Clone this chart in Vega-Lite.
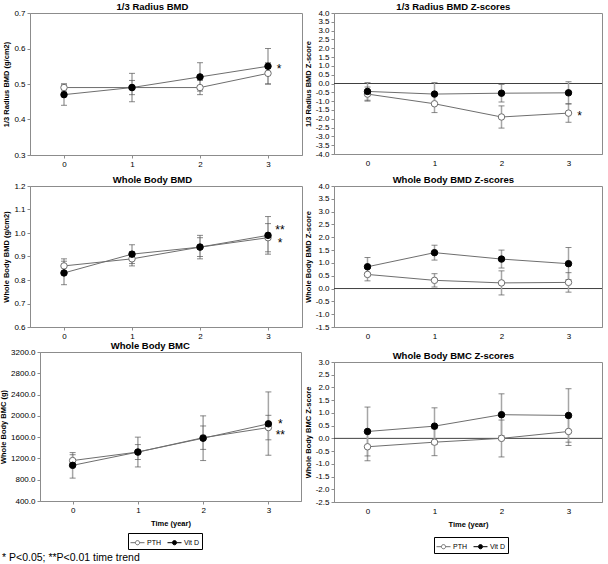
{
  "$schema": "https://vega.github.io/schema/vega-lite/v6.json",
  "background": "white",
  "padding": {"left": -1, "top": 1, "right": 0, "bottom": 0},
  "datasets": {
    "stats": [
      {"panel": "r", "group": "PTH", "time": 0, "mean": 0.49, "lo": 0.48, "hi": 0.50},
      {"panel": "r", "group": "PTH", "time": 1, "mean": 0.49, "lo": 0.47, "hi": 0.51},
      {"panel": "r", "group": "PTH", "time": 2, "mean": 0.49, "lo": 0.47, "hi": 0.51},
      {"panel": "r", "group": "PTH", "time": 3, "mean": 0.53, "lo": 0.50, "hi": 0.56},
      {"panel": "r", "group": "Vit D", "time": 0, "mean": 0.47, "lo": 0.44, "hi": 0.50},
      {"panel": "r", "group": "Vit D", "time": 1, "mean": 0.49, "lo": 0.45, "hi": 0.53},
      {"panel": "r", "group": "Vit D", "time": 2, "mean": 0.52, "lo": 0.48, "hi": 0.56},
      {"panel": "r", "group": "Vit D", "time": 3, "mean": 0.55, "lo": 0.50, "hi": 0.60},
      {"panel": "rz", "group": "PTH", "time": 0, "mean": -0.6, "lo": -1.0, "hi": -0.2},
      {"panel": "rz", "group": "PTH", "time": 1, "mean": -1.15, "lo": -1.65, "hi": -0.65},
      {"panel": "rz", "group": "PTH", "time": 2, "mean": -1.9, "lo": -2.53, "hi": -1.27},
      {"panel": "rz", "group": "PTH", "time": 3, "mean": -1.68, "lo": -2.2, "hi": -1.16},
      {"panel": "rz", "group": "Vit D", "time": 0, "mean": -0.45, "lo": -0.95, "hi": 0.05},
      {"panel": "rz", "group": "Vit D", "time": 1, "mean": -0.6, "lo": -1.2, "hi": 0.05},
      {"panel": "rz", "group": "Vit D", "time": 2, "mean": -0.55, "lo": -1.05, "hi": -0.05},
      {"panel": "rz", "group": "Vit D", "time": 3, "mean": -0.53, "lo": -1.15, "hi": 0.1},
      {"panel": "w", "group": "PTH", "time": 0, "mean": 0.86, "lo": 0.83, "hi": 0.89},
      {"panel": "w", "group": "PTH", "time": 1, "mean": 0.89, "lo": 0.86, "hi": 0.92},
      {"panel": "w", "group": "PTH", "time": 2, "mean": 0.94, "lo": 0.90, "hi": 0.98},
      {"panel": "w", "group": "PTH", "time": 3, "mean": 0.98, "lo": 0.92, "hi": 1.04},
      {"panel": "w", "group": "Vit D", "time": 0, "mean": 0.83, "lo": 0.78, "hi": 0.88},
      {"panel": "w", "group": "Vit D", "time": 1, "mean": 0.91, "lo": 0.87, "hi": 0.95},
      {"panel": "w", "group": "Vit D", "time": 2, "mean": 0.94, "lo": 0.89, "hi": 0.99},
      {"panel": "w", "group": "Vit D", "time": 3, "mean": 0.99, "lo": 0.91, "hi": 1.07},
      {"panel": "wz", "group": "PTH", "time": 0, "mean": 0.55, "lo": 0.3, "hi": 0.8},
      {"panel": "wz", "group": "PTH", "time": 1, "mean": 0.32, "lo": 0.06, "hi": 0.58},
      {"panel": "wz", "group": "PTH", "time": 2, "mean": 0.22, "lo": -0.25, "hi": 0.69},
      {"panel": "wz", "group": "PTH", "time": 3, "mean": 0.24, "lo": -0.14, "hi": 0.62},
      {"panel": "wz", "group": "Vit D", "time": 0, "mean": 0.85, "lo": 0.49, "hi": 1.21},
      {"panel": "wz", "group": "Vit D", "time": 1, "mean": 1.4, "lo": 1.11, "hi": 1.69},
      {"panel": "wz", "group": "Vit D", "time": 2, "mean": 1.15, "lo": 0.8, "hi": 1.5},
      {"panel": "wz", "group": "Vit D", "time": 3, "mean": 0.97, "lo": 0.35, "hi": 1.6},
      {"panel": "c", "group": "PTH", "time": 0, "mean": 1160, "lo": 1050, "hi": 1270},
      {"panel": "c", "group": "PTH", "time": 1, "mean": 1320, "lo": 1180, "hi": 1460},
      {"panel": "c", "group": "PTH", "time": 2, "mean": 1590, "lo": 1370, "hi": 1810},
      {"panel": "c", "group": "PTH", "time": 3, "mean": 1780, "lo": 1550, "hi": 2010},
      {"panel": "c", "group": "Vit D", "time": 0, "mean": 1070, "lo": 830, "hi": 1310},
      {"panel": "c", "group": "Vit D", "time": 1, "mean": 1320, "lo": 1040, "hi": 1600},
      {"panel": "c", "group": "Vit D", "time": 2, "mean": 1580, "lo": 1160, "hi": 2000},
      {"panel": "c", "group": "Vit D", "time": 3, "mean": 1850, "lo": 1260, "hi": 2450},
      {"panel": "cz", "group": "PTH", "time": 0, "mean": -0.33, "lo": -0.88, "hi": 0.22},
      {"panel": "cz", "group": "PTH", "time": 1, "mean": -0.15, "lo": -0.68, "hi": 0.38},
      {"panel": "cz", "group": "PTH", "time": 2, "mean": 0.0, "lo": -0.73, "hi": 0.72},
      {"panel": "cz", "group": "PTH", "time": 3, "mean": 0.27, "lo": -0.28, "hi": 0.82},
      {"panel": "cz", "group": "Vit D", "time": 0, "mean": 0.27, "lo": -0.69, "hi": 1.23},
      {"panel": "cz", "group": "Vit D", "time": 1, "mean": 0.48, "lo": -0.24, "hi": 1.2},
      {"panel": "cz", "group": "Vit D", "time": 2, "mean": 0.93, "lo": 0.11, "hi": 1.75},
      {"panel": "cz", "group": "Vit D", "time": 3, "mean": 0.9, "lo": -0.15, "hi": 1.95}
    ],
    "notes": [
      {"panel": "r", "time": 3, "mean": 0.552, "label": "*"},
      {"panel": "rz", "time": 3, "mean": -1.68, "label": "*"},
      {"panel": "w", "time": 3, "mean": 1.025, "label": "**"},
      {"panel": "w", "time": 3, "mean": 0.972, "label": "*"},
      {"panel": "c", "time": 3, "mean": 1900, "label": "*"},
      {"panel": "c", "time": 3, "mean": 1700, "label": "**"}
    ]
  },
  "title": {"text": "* P<0.05; **P<0.01 time trend", "orient": "bottom", "anchor": "start", "frame": "bounds", "fontSize": 10.5, "fontWeight": "normal", "offset": -1, "dx": 3},
  "spacing": 0,
  "bounds": "full",
  "resolve": {"scale": {"fill": "independent", "stroke": "independent"}, "legend": {"fill": "independent", "stroke": "independent"}},
  "hconcat": [
    {
      "concat": [
        {
          "concat": [
            {
              "width": 272, "height": 142,
              "title": "1/3 Radius BMD",
              "data": {"name": "stats"},
              "transform": [{"filter": "datum.panel === 'r'"}],
              "encoding": {
                "x": {"field": "time", "type": "quantitative", "scale": {"domain": [-0.5, 3.5], "nice": false, "zero": false}, "axis": {"values": [0, 1, 2, 3], "format": "d", "title": null}},
                "y": {"field": "mean", "type": "quantitative", "scale": {"domain": [0.3, 0.7], "nice": false, "zero": false}, "axis": {"values": [0.3, 0.4, 0.5, 0.6, 0.7], "format": ".1f", "title": "1/3 Radius BMD (g/cm2)", "labelOverlap": false}}
              },
              "layer": [
                {"mark": {"type": "rule", "color": "#a6a6a6", "strokeWidth": 1.5}, "encoding": {"y": {"field": "lo", "type": "quantitative"}, "y2": {"field": "hi"}}},
                {"mark": {"type": "tick", "orient": "horizontal", "color": "#555555", "size": 6, "thickness": 1}, "encoding": {"y": {"field": "lo", "type": "quantitative"}}},
                {"mark": {"type": "tick", "orient": "horizontal", "color": "#555555", "size": 6, "thickness": 1}, "encoding": {"y": {"field": "hi", "type": "quantitative"}}},
                {"mark": {"type": "line", "color": "#6e6e6e", "strokeWidth": 1}, "encoding": {"detail": {"field": "group"}}},
                {"mark": {"type": "point", "shape": "circle", "filled": true, "size": 42, "strokeWidth": 1, "opacity": 1},
                 "encoding": {
                   "fill": {"field": "group", "type": "nominal", "scale": {"domain": ["PTH", "Vit D"], "range": ["white", "black"]}, "legend": null},
                   "stroke": {"field": "group", "type": "nominal", "scale": {"domain": ["PTH", "Vit D"], "range": ["#6e6e6e", "black"]}, "legend": null}}},
                {"data": {"name": "notes"}, "transform": [{"filter": "datum.panel === 'r'"}], "mark": {"type": "text", "fontSize": 12, "dx": 11, "dy": 3, "align": "center", "baseline": "middle", "color": "black"}, "encoding": {"text": {"field": "label"}}}
              ]
            },
            {
              "width": 272, "height": 141,
              "title": "Whole Body BMD",
              "data": {"name": "stats"},
              "transform": [{"filter": "datum.panel === 'w'"}],
              "encoding": {
                "x": {"field": "time", "type": "quantitative", "scale": {"domain": [-0.5, 3.5], "nice": false, "zero": false}, "axis": {"values": [0, 1, 2, 3], "format": "d", "title": null}},
                "y": {"field": "mean", "type": "quantitative", "scale": {"domain": [0.6, 1.2], "nice": false, "zero": false}, "axis": {"values": [0.6, 0.7, 0.8, 0.9, 1.0, 1.1, 1.2], "format": ".1f", "title": "Whole Body BMD (g/cm2)", "labelOverlap": false}}
              },
              "layer": [
                {"mark": {"type": "rule", "color": "#a6a6a6", "strokeWidth": 1.5}, "encoding": {"y": {"field": "lo", "type": "quantitative"}, "y2": {"field": "hi"}}},
                {"mark": {"type": "tick", "orient": "horizontal", "color": "#555555", "size": 6, "thickness": 1}, "encoding": {"y": {"field": "lo", "type": "quantitative"}}},
                {"mark": {"type": "tick", "orient": "horizontal", "color": "#555555", "size": 6, "thickness": 1}, "encoding": {"y": {"field": "hi", "type": "quantitative"}}},
                {"mark": {"type": "line", "color": "#6e6e6e", "strokeWidth": 1}, "encoding": {"detail": {"field": "group"}}},
                {"mark": {"type": "point", "shape": "circle", "filled": true, "size": 42, "strokeWidth": 1, "opacity": 1},
                 "encoding": {
                   "fill": {"field": "group", "type": "nominal", "scale": {"domain": ["PTH", "Vit D"], "range": ["white", "black"]}, "legend": null},
                   "stroke": {"field": "group", "type": "nominal", "scale": {"domain": ["PTH", "Vit D"], "range": ["#6e6e6e", "black"]}, "legend": null}}},
                {"data": {"name": "notes"}, "transform": [{"filter": "datum.panel === 'w'"}], "mark": {"type": "text", "fontSize": 12, "dx": 12, "dy": 3, "align": "center", "baseline": "middle", "color": "black"}, "encoding": {"text": {"field": "label"}}}
              ]
            }
          ],
          "columns": 1, "align": "none", "bounds": "full", "spacing": 5,
          "resolve": {"scale": {"fill": "independent", "stroke": "independent"}, "legend": {"fill": "independent", "stroke": "independent"}}
        },
        {
          "hconcat": [
            {"width": 1, "height": 149, "data": {"values": []}, "mark": {"type": "point", "opacity": 0}, "view": {"stroke": null}},
            {
              "width": 261, "height": 149,
              "title": "Whole Body BMC",
              "data": {"name": "stats"},
              "transform": [{"filter": "datum.panel === 'c'"}],
              "encoding": {
                "x": {"field": "time", "type": "quantitative", "scale": {"domain": [-0.5, 3.5], "nice": false, "zero": false}, "axis": {"values": [0, 1, 2, 3], "format": "d", "title": "Time (year)", "titlePadding": 5}},
                "y": {"field": "mean", "type": "quantitative", "scale": {"domain": [400, 3200], "nice": false, "zero": false}, "axis": {"values": [400, 800, 1200, 1600, 2000, 2400, 2800, 3200], "format": ".1f", "title": "Whole Body BMC (g)", "labelOverlap": false}}
              },
              "layer": [
                {"mark": {"type": "rule", "color": "#a6a6a6", "strokeWidth": 1.5}, "encoding": {"y": {"field": "lo", "type": "quantitative"}, "y2": {"field": "hi"}}},
                {"mark": {"type": "tick", "orient": "horizontal", "color": "#555555", "size": 6, "thickness": 1}, "encoding": {"y": {"field": "lo", "type": "quantitative"}}},
                {"mark": {"type": "tick", "orient": "horizontal", "color": "#555555", "size": 6, "thickness": 1}, "encoding": {"y": {"field": "hi", "type": "quantitative"}}},
                {"mark": {"type": "line", "color": "#6e6e6e", "strokeWidth": 1}, "encoding": {"detail": {"field": "group"}}},
                {"mark": {"type": "point", "shape": "circle", "filled": true, "size": 42, "strokeWidth": 1, "opacity": 1},
                 "encoding": {
                   "fill": {"field": "group", "type": "nominal", "scale": {"domain": ["PTH", "Vit D"], "range": ["white", "black"]},
                            "legend": {"title": null, "orient": "none", "legendX": 88, "legendY": 181, "direction": "horizontal", "symbolType": "M-1,0L-0.3,0M0.3,0L1,0M-0.3,0A0.3,0.3,0,1,1,0.3,0A0.3,0.3,0,1,1,-0.3,0", "symbolSize": 196, "symbolStrokeWidth": 1, "labelFontSize": 7, "padding": 2, "strokeColor": "black", "fillColor": "white", "columnPadding": 4, "labelOffset": 2}},
                   "stroke": {"field": "group", "type": "nominal", "scale": {"domain": ["PTH", "Vit D"], "range": ["#6e6e6e", "black"]},
                            "legend": {"title": null, "orient": "none", "legendX": 88, "legendY": 181, "direction": "horizontal", "symbolType": "M-1,0L-0.3,0M0.3,0L1,0M-0.3,0A0.3,0.3,0,1,1,0.3,0A0.3,0.3,0,1,1,-0.3,0", "symbolSize": 196, "symbolStrokeWidth": 1, "labelFontSize": 7, "padding": 2, "strokeColor": "black", "fillColor": "white", "columnPadding": 4, "labelOffset": 2}}}},
                {"data": {"name": "notes"}, "transform": [{"filter": "datum.panel === 'c'"}], "mark": {"type": "text", "fontSize": 12, "dx": 12, "dy": 3, "align": "center", "baseline": "middle", "color": "black"}, "encoding": {"text": {"field": "label"}}}
              ]
            }
          ],
          "spacing": -32, "bounds": "full",
          "resolve": {"scale": {"fill": "independent", "stroke": "independent"}, "legend": {"fill": "independent", "stroke": "independent"}}
        }
      ],
      "columns": 1, "align": "none", "bounds": "full", "spacing": -1,
      "resolve": {"scale": {"fill": "independent", "stroke": "independent"}, "legend": {"fill": "independent", "stroke": "independent"}}
    },
    {
      "concat": [
        {
          "concat": [
            {
              "width": 268, "height": 141,
              "title": "1/3 Radius BMD Z-scores",
              "data": {"name": "stats"},
              "transform": [{"filter": "datum.panel === 'rz'"}],
              "layer": [
                {"transform": [{"filter": "datum.group === 'PTH' && datum.time === 0"}], "mark": {"type": "rule", "color": "#404040", "strokeWidth": 1}, "encoding": {"y": {"datum": 0, "type": "quantitative", "axis": {"values": [-4, -3.5, -3, -2.5, -2, -1.5, -1, -0.5, 0, 0.5, 1, 1.5, 2, 2.5, 3, 3.5, 4], "format": ".1f", "title": "1/3 Radius BMD Z-score", "labelOverlap": false}}}},
                {
                  "encoding": {
                    "x": {"field": "time", "type": "quantitative", "scale": {"domain": [-0.5, 3.5], "nice": false, "zero": false}, "axis": {"values": [0, 1, 2, 3], "format": "d", "title": null, "ticks": false, "labelPadding": 5}},
                    "y": {"field": "mean", "type": "quantitative", "scale": {"domain": [-4, 4], "nice": false, "zero": false}, "axis": {"values": [-4, -3.5, -3, -2.5, -2, -1.5, -1, -0.5, 0, 0.5, 1, 1.5, 2, 2.5, 3, 3.5, 4], "format": ".1f", "title": "1/3 Radius BMD Z-score", "labelOverlap": false}}
                  },
                  "layer": [
                    {"mark": {"type": "rule", "color": "#a6a6a6", "strokeWidth": 1.5}, "encoding": {"y": {"field": "lo", "type": "quantitative"}, "y2": {"field": "hi"}}},
                    {"mark": {"type": "tick", "orient": "horizontal", "color": "#555555", "size": 6, "thickness": 1}, "encoding": {"y": {"field": "lo", "type": "quantitative"}}},
                    {"mark": {"type": "tick", "orient": "horizontal", "color": "#555555", "size": 6, "thickness": 1}, "encoding": {"y": {"field": "hi", "type": "quantitative"}}},
                    {"mark": {"type": "line", "color": "#6e6e6e", "strokeWidth": 1}, "encoding": {"detail": {"field": "group"}}},
                    {"mark": {"type": "point", "shape": "circle", "filled": true, "size": 42, "strokeWidth": 1, "opacity": 1},
                     "encoding": {
                       "fill": {"field": "group", "type": "nominal", "scale": {"domain": ["PTH", "Vit D"], "range": ["white", "black"]}, "legend": null},
                       "stroke": {"field": "group", "type": "nominal", "scale": {"domain": ["PTH", "Vit D"], "range": ["#6e6e6e", "black"]}, "legend": null}}},
                    {"data": {"name": "notes"}, "transform": [{"filter": "datum.panel === 'rz'"}], "mark": {"type": "text", "fontSize": 12, "dx": 11, "dy": 3, "align": "center", "baseline": "middle", "color": "black"}, "encoding": {"text": {"field": "label"}}}
                  ]
                }
              ]
            },
            {
              "width": 268, "height": 141,
              "title": "Whole Body BMD Z-scores",
              "data": {"name": "stats"},
              "transform": [{"filter": "datum.panel === 'wz'"}],
              "layer": [
                {"transform": [{"filter": "datum.group === 'PTH' && datum.time === 0"}], "mark": {"type": "rule", "color": "#404040", "strokeWidth": 1}, "encoding": {"y": {"datum": 0, "type": "quantitative", "axis": {"values": [-1.5, -1, -0.5, 0, 0.5, 1, 1.5, 2, 2.5, 3, 3.5, 4], "format": ".1f", "title": "Whole Body BMD Z-score", "labelOverlap": false}}}},
                {
                  "encoding": {
                    "x": {"field": "time", "type": "quantitative", "scale": {"domain": [-0.5, 3.5], "nice": false, "zero": false}, "axis": {"values": [0, 1, 2, 3], "format": "d", "title": null, "ticks": false, "labelPadding": 5}},
                    "y": {"field": "mean", "type": "quantitative", "scale": {"domain": [-1.5, 4], "nice": false, "zero": false}, "axis": {"values": [-1.5, -1, -0.5, 0, 0.5, 1, 1.5, 2, 2.5, 3, 3.5, 4], "format": ".1f", "title": "Whole Body BMD Z-score", "labelOverlap": false}}
                  },
                  "layer": [
                    {"mark": {"type": "rule", "color": "#a6a6a6", "strokeWidth": 1.5}, "encoding": {"y": {"field": "lo", "type": "quantitative"}, "y2": {"field": "hi"}}},
                    {"mark": {"type": "tick", "orient": "horizontal", "color": "#555555", "size": 6, "thickness": 1}, "encoding": {"y": {"field": "lo", "type": "quantitative"}}},
                    {"mark": {"type": "tick", "orient": "horizontal", "color": "#555555", "size": 6, "thickness": 1}, "encoding": {"y": {"field": "hi", "type": "quantitative"}}},
                    {"mark": {"type": "line", "color": "#6e6e6e", "strokeWidth": 1}, "encoding": {"detail": {"field": "group"}}},
                    {"mark": {"type": "point", "shape": "circle", "filled": true, "size": 42, "strokeWidth": 1, "opacity": 1},
                     "encoding": {
                       "fill": {"field": "group", "type": "nominal", "scale": {"domain": ["PTH", "Vit D"], "range": ["white", "black"]}, "legend": null},
                       "stroke": {"field": "group", "type": "nominal", "scale": {"domain": ["PTH", "Vit D"], "range": ["#6e6e6e", "black"]}, "legend": null}}}
                  ]
                }
              ]
            }
          ],
          "columns": 1, "align": "none", "bounds": "full", "spacing": 6,
          "resolve": {"scale": {"fill": "independent", "stroke": "independent"}, "legend": {"fill": "independent", "stroke": "independent"}}
        },
        {
          "width": 268, "height": 140,
          "title": "Whole Body BMC Z-scores",
          "data": {"name": "stats"},
          "transform": [{"filter": "datum.panel === 'cz'"}],
          "layer": [
            {"transform": [{"filter": "datum.group === 'PTH' && datum.time === 0"}], "mark": {"type": "rule", "color": "#404040", "strokeWidth": 1}, "encoding": {"y": {"datum": 0, "type": "quantitative", "axis": {"values": [-2.5, -2, -1.5, -1, -0.5, 0, 0.5, 1, 1.5, 2, 2.5, 3], "format": ".1f", "title": "Whole Body BMC Z-score", "labelOverlap": false}}}},
            {
              "encoding": {
                "x": {"field": "time", "type": "quantitative", "scale": {"domain": [-0.5, 3.5], "nice": false, "zero": false}, "axis": {"values": [0, 1, 2, 3], "format": "d", "title": "Time (year)", "ticks": false, "labelPadding": 5, "titlePadding": 5}},
                "y": {"field": "mean", "type": "quantitative", "scale": {"domain": [-2.5, 3], "nice": false, "zero": false}, "axis": {"values": [-2.5, -2, -1.5, -1, -0.5, 0, 0.5, 1, 1.5, 2, 2.5, 3], "format": ".1f", "title": "Whole Body BMC Z-score", "labelOverlap": false}}
              },
              "layer": [
                {"mark": {"type": "rule", "color": "#a6a6a6", "strokeWidth": 1.5}, "encoding": {"y": {"field": "lo", "type": "quantitative"}, "y2": {"field": "hi"}}},
                {"mark": {"type": "tick", "orient": "horizontal", "color": "#555555", "size": 6, "thickness": 1}, "encoding": {"y": {"field": "lo", "type": "quantitative"}}},
                {"mark": {"type": "tick", "orient": "horizontal", "color": "#555555", "size": 6, "thickness": 1}, "encoding": {"y": {"field": "hi", "type": "quantitative"}}},
                {"mark": {"type": "line", "color": "#6e6e6e", "strokeWidth": 1}, "encoding": {"detail": {"field": "group"}}},
                {"mark": {"type": "point", "shape": "circle", "filled": true, "size": 42, "strokeWidth": 1, "opacity": 1},
                 "encoding": {
                   "fill": {"field": "group", "type": "nominal", "scale": {"domain": ["PTH", "Vit D"], "range": ["white", "black"]},
                            "legend": {"title": null, "orient": "none", "legendX": 100, "legendY": 175, "direction": "horizontal", "symbolType": "M-1,0L-0.3,0M0.3,0L1,0M-0.3,0A0.3,0.3,0,1,1,0.3,0A0.3,0.3,0,1,1,-0.3,0", "symbolSize": 196, "symbolStrokeWidth": 1, "labelFontSize": 7, "padding": 2, "strokeColor": "black", "fillColor": "white", "columnPadding": 4, "labelOffset": 2}},
                   "stroke": {"field": "group", "type": "nominal", "scale": {"domain": ["PTH", "Vit D"], "range": ["#6e6e6e", "black"]},
                            "legend": {"title": null, "orient": "none", "legendX": 100, "legendY": 175, "direction": "horizontal", "symbolType": "M-1,0L-0.3,0M0.3,0L1,0M-0.3,0A0.3,0.3,0,1,1,0.3,0A0.3,0.3,0,1,1,-0.3,0", "symbolSize": 196, "symbolStrokeWidth": 1, "labelFontSize": 7, "padding": 2, "strokeColor": "black", "fillColor": "white", "columnPadding": 4, "labelOffset": 2}}}}
              ]
            }
          ]
        }
      ],
      "columns": 1, "align": "none", "bounds": "full", "spacing": 9,
      "resolve": {"scale": {"fill": "independent", "stroke": "independent"}, "legend": {"fill": "independent", "stroke": "independent"}}
    }
  ],
  "config": {
    "font": "Liberation Sans",
    "locale": {"number": {"decimal": ".", "thousands": ",", "grouping": [3], "currency": ["$", ""], "minus": "-"}},
    "view": {"stroke": "#8c8c8c", "strokeWidth": 1},
    "axis": {"grid": false, "labelOverlap": false, "domainColor": "#8c8c8c", "tickColor": "#8c8c8c", "labelFont": "Liberation Sans", "labelFontSize": 8, "labelColor": "#000000", "titleFont": "Liberation Sans", "titleFontSize": 7.5, "titleFontWeight": "bold", "titleColor": "#000000", "tickSize": 3, "labelPadding": 2, "titlePadding": 3},
    "title": {"font": "Liberation Sans", "fontSize": 9.5, "fontWeight": "bold", "color": "#000000", "offset": -2, "frame": "bounds", "anchor": "middle"},
    "legend": {"labelFont": "Liberation Sans", "labelColor": "#000000"}
  }
}
